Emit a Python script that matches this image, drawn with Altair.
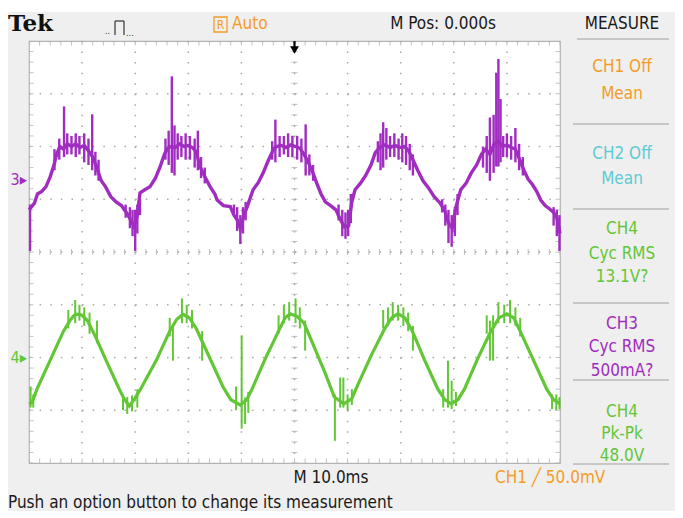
import altair as alt
import pandas as pd

# ---------------- data (time in ms, amplitude in screen divisions) ----------------
# CH3 (purple) main trace
ch3_t = [-50.0, -49.6, -49.0, -48.4, -47.6, -46.8, -46.0, -45.3, -44.8, -44.2, -43.5, -42.8, -42.0, -41.2,
         -40.4, -39.6, -38.8, -38.0, -37.3, -36.4, -35.6, -34.6, -33.6, -32.6, -31.6, -30.8, -30.2, -29.6,
         -29.1, -28.2, -27.2, -26.2, -25.3, -24.5, -24.0, -23.4, -22.5, -21.6, -20.8, -20.0, -19.2, -18.5,
         -17.8, -17.0, -15.9, -15.0, -14.6, -13.4, -12.1, -11.4, -10.8, -10.2, -9.5, -8.9, -7.8, -6.8,
         -5.9, -5.0, -4.0, -3.4, -2.5, -1.6, -0.7, 0.2, 1.0, 1.8, 2.6, 3.4, 4.2, 5.0, 5.8, 6.8, 7.8, 8.6,
         9.4, 10.2, 10.8, 11.4, 12.4, 13.4, 14.4, 15.2, 16.0, 17.0, 18.0, 18.9, 19.8, 20.7, 21.5, 22.3,
         23.2, 24.2, 25.2, 26.3, 27.4, 28.3, 29.0, 29.7, 30.4, 31.3, 32.3, 33.3, 34.3, 35.2, 36.0, 36.8,
         37.6, 38.4, 39.2, 40.0, 40.8, 41.6, 42.4, 43.2, 44.0, 44.8, 45.6, 46.4, 47.2, 48.0, 48.8, 49.5, 50.0]
ch3_v = [0.80, 0.85, 0.92, 1.10, 1.15, 1.24, 1.43, 1.65, 1.85, 2.00, 1.95, 2.05, 2.00, 2.05,
         1.98, 2.02, 1.92, 1.80, 1.62, 1.35, 1.24, 1.05, 0.95, 0.88, 0.74, 0.60, 0.48, 0.70,
         1.12, 1.18, 1.24, 1.40, 1.62, 1.85, 1.95, 2.00, 1.98, 2.05, 2.00, 2.02, 1.98, 1.90,
         1.62, 1.45, 1.24, 1.10, 0.99, 0.88, 0.86, 0.70, 0.61, 0.45, 0.70, 0.86, 1.18, 1.32,
         1.50, 1.72, 1.94, 2.00, 2.02, 1.98, 2.03, 2.00, 1.97, 1.85, 1.70, 1.52, 1.30, 1.10, 0.95, 0.88, 0.80, 0.62,
         0.48, 0.50, 0.95, 1.18, 1.30, 1.45, 1.65, 1.88, 1.98, 2.03, 1.98, 2.02, 1.98, 2.00, 1.92, 1.75,
         1.55, 1.35, 1.22, 1.05, 0.93, 0.78, 0.55, 0.45, 0.85, 1.18, 1.30, 1.50, 1.65, 1.85, 1.95, 1.85,
         2.05, 2.10, 2.00, 2.03, 1.98, 1.95, 1.75, 1.55, 1.38, 1.28, 1.15, 0.98, 0.88, 0.82, 0.75, 0.62, 0.35]

# CH3 noise / spikes: vertical segments (time, low, high)
ch3_noise_t = [-49.8, -45.2, -44.3, -43.4, -42.8, -42.0, -41.2, -40.5, -39.6, -38.8, -38.1, -37.5, -36.9,
               -31.8, -31.0, -30.5, -30.0, -29.6, -29.1,
               -24.3, -23.7, -23.1, -22.6, -22.0, -21.3, -20.5, -19.7, -18.8, -18.2, -17.6, -16.9,
               -11.4, -10.8, -10.2, -9.7, -9.2,
               -4.2, -3.6, -2.8, -2.0, -1.2, -0.4, 0.5, 1.3, 2.1, 2.8, 3.5,
               8.3, 9.0, 9.6, 10.1, 10.6,
               15.7, 16.2, 16.7, 17.3, 18.0, 18.8, 19.6, 20.3, 21.0, 21.7, 22.3,
               27.8, 28.4, 29.0, 29.6, 30.2, 30.7,
               35.5, 36.2, 36.8, 37.5, 38.0, 38.4, 38.8, 39.3, 40.0, 40.8, 41.6, 42.3, 43.0,
               48.8, 49.4, 49.9]
ch3_noise_lo = [0.02, 1.55, 1.75, 1.80, 1.85, 1.85, 1.80, 1.85, 1.70, 1.65, 1.55, 1.45, 1.35,
                0.65, 0.45, 0.30, 0.02, 0.35, 0.70,
                1.75, 1.65, 1.50, 1.45, 1.75, 1.80, 1.75, 1.75, 1.60, 1.55, 1.40, 1.30,
                0.70, 0.40, 0.15, 0.35, 0.60,
                1.75, 1.70, 1.80, 1.85, 1.80, 1.80, 1.75, 1.70, 1.45, 1.45, 1.35,
                0.60, 0.30, 0.25, 0.30, 0.55,
                1.70, 1.55, 1.60, 1.75, 1.80, 1.80, 1.75, 1.70, 1.65, 1.55, 1.45,
                0.75, 0.50, 0.17, 0.10, 0.30, 0.70,
                1.60, 1.50, 1.35, 1.50, 1.62, 1.62, 1.70, 1.80, 1.80, 1.75, 1.70, 1.55, 1.45,
                0.50, 0.30, 0.02]
ch3_noise_hi = [0.90, 1.95, 2.15, 2.76, 2.25, 2.20, 2.25, 2.20, 2.25, 2.15, 2.61, 1.90, 1.75,
                0.90, 0.85, 0.80, 0.80, 0.90, 1.00,
                2.15, 2.30, 3.33, 2.40, 2.25, 2.20, 2.25, 2.20, 2.15, 2.30, 1.80, 1.60,
                0.90, 0.85, 0.70, 0.85, 0.95,
                2.10, 2.51, 2.20, 2.20, 2.25, 2.20, 2.20, 2.15, 2.42, 1.85, 1.65,
                0.90, 0.80, 0.75, 0.80, 1.10,
                2.10, 2.25, 2.46, 2.35, 2.20, 2.25, 2.15, 2.25, 2.20, 2.05, 1.85,
                1.00, 0.90, 0.80, 0.70, 0.85, 1.10,
                2.00, 2.20, 2.55, 2.60, 3.40, 3.66, 2.90, 2.20, 2.25, 2.20, 2.35, 2.05, 1.80,
                0.85, 0.80, 0.70]

# CH4 (green) main trace
ch4_t = [-50.0, -49.4, -48.5, -46.0, -43.5, -42.3, -41.5, -40.9, -40.0, -39.0, -37.5, -35.5, -33.0, -32.0,
         -31.1, -30.2, -29.0, -26.0, -23.5, -22.2, -21.0, -19.8, -18.5, -16.0, -13.5, -12.0, -10.2, -9.0,
         -8.0, -5.5, -3.0, -1.8, -0.8, 0.5, 1.8, 3.5, 5.8, 7.5, 9.3, 10.8, 12.0, 14.5, 17.0, 18.3, 19.5,
         20.8, 22.2, 24.5, 27.0, 28.3, 29.5, 30.8, 32.0, 34.5, 37.0, 38.5, 40.0, 41.3, 42.5, 45.0, 47.5,
         48.8, 50.0]
ch4_v = [-2.88, -2.85, -2.60, -2.05, -1.50, -1.30, -1.20, -1.18, -1.20, -1.30, -1.60, -2.05, -2.60, -2.80,
         -2.92, -2.80, -2.60, -2.05, -1.50, -1.28, -1.18, -1.25, -1.45, -2.00, -2.55, -2.80, -2.90, -2.80,
         -2.60, -2.02, -1.50, -1.25, -1.17, -1.22, -1.35, -1.75, -2.30, -2.75, -2.88, -2.78, -2.50, -1.95,
         -1.45, -1.25, -1.17, -1.25, -1.50, -2.05, -2.60, -2.80, -2.88, -2.80, -2.60, -2.02, -1.50, -1.25,
         -1.17, -1.25, -1.50, -2.05, -2.60, -2.80, -2.88]

# CH4 noise / spikes
ch4_noise_t = [-49.7, -49.2, -42.6, -41.3, -40.5, -39.6, -38.6, -37.2,
               -32.3, -31.5, -30.6, -29.6,
               -23.5, -22.9, -21.2, -20.3, -19.3, -17.4,
               -11.0, -9.95, -9.3, -8.7,
               -3.0, -2.0, -1.0, 0.2, 1.0, 2.0,
               7.6, 8.6, 9.2, 10.0, 10.8,
               16.7, 17.6, 18.5, 19.5, 20.5, 21.4, 22.3,
               28.0, 28.9, 29.6, 30.4,
               36.2, 36.8, 37.4, 38.4, 39.5, 40.6, 41.6, 42.5,
               48.5, 49.3, 49.9]
ch4_noise_lo = [-2.95, -2.95, -1.45, -1.35, -1.30, -1.40, -1.55, -1.73,
                -3.00, -3.07, -3.02, -2.95,
                -1.60, -2.06, -1.35, -1.35, -1.45, -2.06,
                -3.00, -3.35, -3.26, -3.05,
                -1.55, -1.35, -1.30, -1.35, -1.45, -1.87,
                -3.58, -2.95, -2.95, -3.00, -2.90,
                -1.45, -1.40, -1.30, -1.30, -1.40, -1.50, -1.87,
                -2.95, -2.95, -2.98, -2.92,
                -1.55, -2.06, -2.06, -1.35, -1.35, -1.35, -1.40, -1.60,
                -2.98, -3.00, -2.98]
ch4_noise_hi = [-2.55, -2.70, -1.10, -0.91, -1.00, -1.05, -1.15, -1.30,
                -2.70, -2.75, -2.72, -2.60,
                -1.25, -1.40, -0.88, -1.00, -1.10, -1.50,
                -2.55, -1.58, -2.76, -2.65,
                -1.20, -1.00, -0.95, -0.88, -1.05, -1.30,
                -2.70, -2.38, -2.38, -2.70, -2.60,
                -1.10, -1.05, -0.95, -1.00, -1.05, -1.15, -1.40,
                -2.60, -2.06, -2.44, -2.65,
                -1.20, -1.30, -1.20, -0.95, -1.00, -0.91, -1.05, -1.25,
                -2.70, -2.70, -2.75]

x_grid = [-40, -30, -20, -10, 0, 10, 20, 30, 40]
y_grid = [-3, -2, -1, 0, 1, 2, 3]

# ---------------- styling ----------------
PURPLE = "#a02cc0"
GREEN = "#62c636"
ORANGE = "#f39c26"
CYAN = "#5ccbd3"
GRIDC = "#a8a8a8"
SANS = "DejaVu Sans Condensed, Liberation Sans Narrow, DejaVu Sans, sans-serif"
W, H = 531, 422

X = alt.Scale(domain=[-50, 50], nice=False, zero=False)
Y = alt.Scale(domain=[-4, 4], nice=False, zero=False)
one = alt.InlineData(values=[{"k": 0}])


def label(text, x, y, color="#1a1a1a", size=16, align="center", font=SANS, weight="normal"):
    return alt.Chart(one).mark_text(
        text=text, align=align, baseline="middle", font=font, fontSize=size,
        fontWeight=weight, color=color
    ).encode(x=alt.value(x), y=alt.value(y))


def seg(x1, y1, x2, y2, color, width=1.0):
    return alt.Chart(one).mark_rule(color=color, strokeWidth=width).encode(
        x=alt.value(x1), x2=alt.value(x2), y=alt.value(y1), y2=alt.value(y2))


ch3 = pd.DataFrame({"i": range(len(ch3_t)), "t": ch3_t, "v": ch3_v})
ch3n = pd.DataFrame({"t": ch3_noise_t, "lo": ch3_noise_lo, "hi": ch3_noise_hi})
ch4 = pd.DataFrame({"i": range(len(ch4_t)), "t": ch4_t, "v": ch4_v})
ch4n = pd.DataFrame({"t": ch4_noise_t, "lo": ch4_noise_lo, "hi": ch4_noise_hi})
gx = pd.DataFrame({"g": x_grid})
gy = pd.DataFrame({"g": y_grid})
# graticule minor ticks: 5 per division
tx = pd.DataFrame({"g": [-50 + 2 * k for k in range(51)]})
ty = pd.DataFrame({"g": [round(-4 + 0.2 * k, 2) for k in range(41)]})

layers = []
# white strip above the gray screen
layers.append(alt.Chart(one).mark_rect(color="white").encode(
    x=alt.value(-21), x2=alt.value(646), y=alt.value(-33), y2=alt.value(-29)))

# dotted grid
layers.append(alt.Chart(gx).mark_rule(color=GRIDC, strokeWidth=1.5, strokeDash=[1.5, 9.05]).encode(
    x=alt.X("g:Q", scale=X, axis=None), y=alt.value(0), y2=alt.value(H)))
layers.append(alt.Chart(gy).mark_rule(color=GRIDC, strokeWidth=1.5, strokeDash=[1.5, 9.12]).encode(
    y=alt.Y("g:Q", scale=Y, axis=None), x=alt.value(0), x2=alt.value(W)))

# minor ticks on the centre cross and edges
for yy, sz in [(H / 2, 6), (0, 9), (H, 9)]:
    layers.append(alt.Chart(tx).mark_tick(orient="vertical", size=sz, thickness=1, color=GRIDC, clip=True).encode(
        x=alt.X("g:Q", scale=X, axis=None), y=alt.value(yy)))
for xx, sz in [(W / 2, 6), (0, 9), (W, 9)]:
    layers.append(alt.Chart(ty).mark_tick(orient="horizontal", size=sz, thickness=1, color=GRIDC, clip=True).encode(
        y=alt.Y("g:Q", scale=Y, axis=None), x=alt.value(xx)))

# traces
layers.append(alt.Chart(ch3n).mark_rule(color=PURPLE, strokeWidth=2.4).encode(
    x=alt.X("t:Q", scale=X, axis=None), y=alt.Y("lo:Q", scale=Y, axis=None), y2="hi:Q"))
layers.append(alt.Chart(ch3).mark_line(color=PURPLE, strokeWidth=3.4).encode(
    x=alt.X("t:Q", scale=X, axis=None), y=alt.Y("v:Q", scale=Y, axis=None), order="i:Q"))
layers.append(alt.Chart(ch4n).mark_rule(color=GREEN, strokeWidth=2.0).encode(
    x=alt.X("t:Q", scale=X, axis=None), y=alt.Y("lo:Q", scale=Y, axis=None), y2="hi:Q"))
layers.append(alt.Chart(ch4).mark_line(color=GREEN, strokeWidth=3.2).encode(
    x=alt.X("t:Q", scale=X, axis=None), y=alt.Y("v:Q", scale=Y, axis=None), order="i:Q"))

# trigger position arrow
layers.append(seg(W / 2, 0, W / 2, 7, "#000000", 2.2))
layers.append(alt.Chart(one).mark_point(shape="triangle-down", filled=True, color="#000000", size=80, opacity=1).encode(
    x=alt.value(W / 2), y=alt.value(9)))

# channel markers
layers.append(label("3\u25b8", -2, 139, PURPLE, 16, "right"))
layers.append(label("4\u25b8", -2, 317, GREEN, 16, "right"))

# header
layers.append(label("Tek", -21, -17, "#111111", 23, "left", "DejaVu Serif", "bold"))
# pulse icon
layers.append(label("..", 76, -10, "#333333", 9, "left"))
layers.append(seg(86, -6, 86, -20, "#333333", 1.2))
layers.append(seg(86, -20, 95, -20, "#333333", 1.2))
layers.append(seg(95, -20, 95, -6, "#333333", 1.2))
layers.append(label("...", 97, -8, "#333333", 9, "left"))
# R box + Auto
layers.append(alt.Chart(one).mark_rect(fill=None, stroke=ORANGE, strokeWidth=1.3).encode(
    x=alt.value(185), x2=alt.value(198), y=alt.value(-24), y2=alt.value(-9)))
layers.append(label("R", 191.5, -16, ORANGE, 12))
layers.append(label("Auto", 203, -17, ORANGE, 17, "left"))
layers.append(label("M Pos: 0.000s", 414, -17, "#1a1a1a", 17))
layers.append(label("MEASURE", 593, -17, "#1a1a1a", 17))
layers.append(seg(548, -2, 640, -2, "#a0a0a0", 1.2))

# measurement panel
panel = [
    ("CH1 Off", 26, ORANGE), ("Mean", 53, ORANGE),
    ("CH2 Off", 113, CYAN), ("Mean", 138, CYAN),
    ("CH4", 188, GREEN), ("Cyc RMS", 213, GREEN), ("13.1V?", 236, GREEN),
    ("CH3", 283, PURPLE), ("Cyc RMS", 306, PURPLE), ("500mA?", 330, PURPLE),
    ("CH4", 371, GREEN), ("Pk-Pk", 393, GREEN), ("48.0V", 415, GREEN),
]
for txt, yy, col in panel:
    layers.append(label(txt, 593, yy, col, 17))
for yy in [83, 168, 262, 339, 423]:
    layers.append(seg(544, yy, 640, yy, "#a0a0a0", 1.2))

# footer
layers.append(label("M 10.0ms", 302, 437, "#1a1a1a", 17))
layers.append(label("CH1 \u2571 50.0mV", 466, 437, ORANGE, 17, "left"))
layers.append(label("Push an option button to change its measurement", -21, 462, "#1a1a1a", 17, "left"))

chart = alt.layer(*layers).properties(
    width=W, height=H,
    autosize=alt.AutoSizeParams(type="none"),
    padding={"left": 21, "top": 33, "right": 115, "bottom": 48},
    background="#efefef",
).configure_view(fill="white", stroke="#b4b4b4", strokeWidth=1.2)

chart.save("out.html", embed_options={"renderer": "svg", "actions": False})
